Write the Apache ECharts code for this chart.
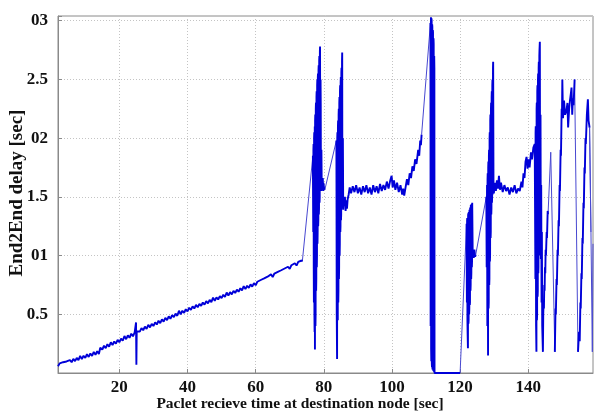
<!DOCTYPE html>
<html><head><meta charset="utf-8">
<script src="https://cdn.jsdelivr.net/npm/echarts@6/dist/echarts.min.js"></script>
<style>html,body{margin:0;padding:0;background:#fff}#c{width:595px;height:412px}</style>
</head><body><div id="c"></div>
<script>
// [receive time (s), end-to-end delay (s)], one array per dense burst/band;
// consecutive pieces are joined by thin connecting lines
const rampSeg = [
[2.0,0.058],[2.5,0.082],[3.0,0.066],[3.5,0.092],[4.0,0.075],[4.5,0.098],[5.0,0.084],[5.5,0.110],[6.0,0.092],[6.5,0.120],
[7.0,0.101],[7.5,0.128],[8.0,0.110],[8.5,0.145],[9.0,0.118],[9.5,0.147],[10.0,0.128],[10.5,0.160],[11.0,0.137],[11.5,0.166],
[12.0,0.146],[12.5,0.180],[13.0,0.155],[13.5,0.186],[14.0,0.162],[14.3,0.148],[14.4,0.215],[15.0,0.200],[15.5,0.232],[16.0,0.212],
[16.5,0.245],[17.0,0.224],[17.5,0.262],[18.0,0.238],[18.5,0.268],[19.0,0.250],[19.5,0.282],[20.0,0.262],[20.5,0.293],[21.0,0.275],
[21.5,0.315],[22.0,0.288],[22.5,0.320],[23.0,0.300],[23.5,0.335],[24.0,0.312],[24.5,0.345],[24.8,0.330],[24.9,0.430],[25.0,0.070],
[25.1,0.355],[25.5,0.372],[26.0,0.352],[26.5,0.382],[27.0,0.364],[27.5,0.395],[28.0,0.376],[28.5,0.410],[29.0,0.388],[29.5,0.418],
[30.0,0.400],[30.5,0.432],[31.0,0.413],[31.5,0.445],[32.0,0.425],[32.5,0.456],[33.0,0.437],[33.5,0.470],[34.0,0.450],[34.5,0.482],
[35.0,0.462],[35.5,0.493],[36.0,0.475],[36.5,0.506],[37.0,0.487],[37.5,0.530],[38.0,0.500],[38.5,0.530],[39.0,0.512],[39.5,0.543],
[40.0,0.524],[40.5,0.556],[41.0,0.537],[41.5,0.568],[42.0,0.549],[42.5,0.580],[43.0,0.560],[43.5,0.589],[44.0,0.571],[44.5,0.600],
[45.0,0.582],[45.5,0.612],[46.0,0.593],[46.5,0.622],[47.0,0.604],[47.5,0.642],[48.0,0.615],[48.5,0.644],[49.0,0.626],[49.5,0.655],
[50.0,0.637],[50.5,0.666],[51.0,0.648],[51.5,0.685],[52.0,0.659],[52.5,0.688],[53.0,0.670],[53.5,0.700],[54.0,0.681],[54.5,0.710],
[55.0,0.692],[55.5,0.722],[56.0,0.703],[56.5,0.740],[57.0,0.714],[57.5,0.743],[58.0,0.725],[58.5,0.754],[59.0,0.736],[59.5,0.765],
[60.0,0.747],[60.5,0.777],[61.0,0.761],[61.5,0.792],[62.0,0.775],[62.5,0.805],[63.0,0.789],[63.5,0.820],[64.0,0.803],[64.5,0.840],
[65.0,0.817],[65.5,0.847],[66.0,0.831],[66.5,0.861],[67.0,0.845],[67.5,0.875],[68.0,0.859],[68.5,0.890],[69.0,0.873],[69.5,0.905],
[70.0,0.887],[70.5,0.918],[71.0,0.901],[71.5,0.935],[72.0,0.915],[72.5,0.946],[73.0,0.930],[73.5,0.958],[73.7,0.950]
];
const burst1 = [
[76.8,1.85],[76.85,1.50],[76.9,1.20],[76.95,1.90],[77.0,1.95],[77.05,0.90],[77.1,0.60],[77.15,2.00],[77.2,2.05],[77.25,0.50],[77.3,0.35],[77.35,2.10],[77.4,0.20],[77.45,2.15],[77.5,2.20],[77.55,0.40],[77.6,0.50],
[77.65,2.25],[77.7,2.30],[77.75,0.70],[77.8,0.80],[77.85,2.35],[77.9,2.40],[77.95,0.90],[78.0,1.00],[78.05,2.45],[78.1,2.50],[78.15,1.10],[78.2,1.20],[78.25,2.52],[78.3,2.55],[78.35,1.25],[78.4,1.30],[78.45,2.58],[78.5,2.62],[78.55,1.35],[78.6,1.40],
[78.65,2.66],[78.7,2.70],[78.75,1.45],[78.8,1.50],[78.85,2.74],[78.9,2.78],[78.95,1.70],[79.0,1.80],[79.05,2.50],[79.1,2.30],[79.15,1.60],[79.2,1.55],[79.3,1.90],[79.4,1.56],[79.5,1.60],[79.7,1.66],
[79.8,1.55],[79.9,1.62],[80.1,1.57],[80.3,1.56]
];
const burst2 = [
[83.7,1.98],[83.8,0.50],[83.9,0.12],[83.95,2.00],[84.0,2.05],[84.05,0.50],[84.1,0.45],[84.15,2.10],[84.2,2.15],[84.25,0.60],[84.3,0.70],[84.35,2.20],[84.4,2.25],[84.45,0.80],[84.5,0.90],[84.55,2.30],[84.6,2.35],
[84.65,1.00],[84.7,1.10],[84.75,2.40],[84.8,2.45],[84.85,1.20],[84.9,1.25],[84.95,2.48],[85.0,2.52],[85.05,1.30],[85.1,1.35],[85.15,2.56],[85.2,2.60],[85.25,1.40],[85.3,1.45],[85.35,2.66],[85.4,2.73],[85.45,1.45],[85.5,1.50],[85.6,2.00],
[85.7,1.39],[85.8,1.50],[86.0,1.42],[86.2,1.50],[86.4,1.38],[86.6,1.47],[86.8,1.40],[87.0,1.48],[87.3,1.52],[87.6,1.58],
[88.0,1.53],[88.5,1.59],[89.0,1.54],[89.5,1.60],[90.0,1.53],[90.5,1.58],[91.0,1.52],[91.5,1.59],[92.0,1.54],[92.5,1.60],
[93.0,1.53],[93.5,1.58],[94.0,1.52],[94.5,1.60],[95.0,1.54],[95.5,1.59],[96.0,1.53],[96.5,1.61],[97.0,1.55],[97.5,1.60],
[98.0,1.56],[98.5,1.63],[99.0,1.57],[99.5,1.64],[99.9,1.68],[100.2,1.58],[100.6,1.64],[101.0,1.56],[101.5,1.62],[102.0,1.54],
[102.5,1.60],[103.0,1.52],[103.3,1.57],[103.6,1.51],[104.0,1.58],[104.4,1.65],[104.8,1.60],[105.2,1.70],[105.6,1.66],[106.0,1.76],
[106.4,1.72],[106.8,1.82],[107.2,1.78],[107.7,1.90],[108.0,1.85],[108.3,1.98],[108.5,1.94],[108.7,2.03]
];
const burst3 = [
[111.3,2.98],[111.35,0.40],[111.4,2.90],[111.45,3.03],[111.5,0.20],[111.55,0.10],[111.6,3.02],[111.65,3.00],[111.7,0.08],[111.75,0.05],[111.8,2.97],[111.85,2.95],[111.9,0.03],[111.95,0.02],[112.0,2.92],[112.05,2.90],[112.1,0.02],[112.15,0.02],
[112.2,2.85],[112.25,2.80],[112.3,0.01],[112.35,0.00],[112.4,2.70],[112.45,2.60],[112.5,0.00],[112.55,0.00],[113.1,0.00],[120.0,0.00]
];
const burst4 = [
[121.9,1.27],[122.0,0.60],[122.05,1.30],[122.1,1.32],[122.15,0.45],[122.2,0.35],[122.3,0.21],[122.35,1.34],[122.4,1.36],[122.45,0.42],[122.5,0.45],[122.55,1.37],[122.6,1.38],[122.65,0.50],[122.7,0.55],[122.75,1.39],[122.8,1.40],
[122.85,0.58],[122.9,0.60],[122.95,1.41],[123.0,1.42],[123.05,0.70],[123.1,0.75],[123.15,1.43],[123.2,1.43],[123.25,0.80],[123.3,0.85],[123.35,1.44],[123.4,1.45],[123.45,0.90],[123.5,0.95],[123.55,1.45],[123.6,1.46],[123.7,1.00],[123.8,1.02],
[124.0,0.98],[124.2,1.05],[124.4,0.99],[124.6,1.01]
];
const burst5 = [
[127.7,1.50],[127.8,0.90],[127.9,1.60],[128.0,0.40],[128.05,1.65],[128.1,1.70],[128.2,0.15],[128.25,1.75],[128.3,1.80],[128.35,0.55],[128.4,0.60],[128.45,1.85],[128.5,1.90],[128.55,0.75],[128.6,0.80],
[128.65,2.00],[128.7,2.05],[128.75,0.95],[128.8,1.00],[128.85,2.15],[128.9,2.20],[128.95,1.15],[129.0,1.20],[129.05,2.25],[129.1,2.30],[129.15,1.35],[129.2,1.40],[129.25,2.35],[129.3,2.40],[129.35,1.45],[129.4,1.50],[129.45,2.45],[129.5,2.50],[129.55,1.52],[129.6,1.55],
[129.65,2.60],[129.7,2.65],[129.8,1.60],[129.9,1.53],
[130.2,1.62],[130.5,1.55],[130.8,1.64],[131.1,1.57],[131.4,1.68],[131.7,1.56],[132.0,1.62],[132.5,1.54],[133.0,1.60],[133.5,1.55],
[134.0,1.58],[134.5,1.52],[135.0,1.58],[135.5,1.54],[136.0,1.60],[136.5,1.53],[137.0,1.57],[137.5,1.55],[138.0,1.63],[138.3,1.58],
[138.6,1.70],[138.9,1.66],[139.2,1.80],[139.5,1.84],[139.8,1.74],[140.1,1.82],[140.4,1.75],[140.8,1.88],[141.1,1.82],[141.5,1.92],
[141.9,1.95],
[142.0,1.95],[142.1,0.80],[142.15,2.05],[142.2,2.10],[142.3,0.40],[142.4,0.18],[142.45,2.25],[142.5,2.30],[142.55,0.45],[142.6,0.50],[142.65,2.40],[142.7,2.45],[142.75,0.65],[142.8,0.70],[142.85,2.50],[142.9,2.55],
[142.95,0.85],[143.0,0.90],[143.05,2.60],[143.1,2.65],[143.15,1.05],[143.2,1.10],[143.25,2.70],[143.3,2.75],[143.4,2.82],[143.5,1.00],[143.6,2.20],[143.7,0.97],[143.8,1.60],[143.9,0.60],
[144.0,1.20],[144.1,0.40],[144.3,0.18],[144.4,0.50],[144.5,0.60],[144.6,0.55],[144.7,0.75],[144.8,0.70],[144.9,0.90],[145.0,0.85],
[145.1,1.05],[145.2,1.00],[145.4,1.20],[145.5,1.15],[145.7,1.38],[145.8,1.35]
];
const burst6 = [
[147.8,0.18],[148.0,0.55],[148.1,0.50],
[148.3,0.80],[148.4,0.75],[148.6,1.05],[148.7,1.00],[148.9,1.30],[149.0,1.25],[149.2,1.60],[149.3,1.55],[149.5,1.90],[149.6,1.85],
[149.8,2.25],[149.9,2.20],[150.0,2.50],[150.2,2.17],[150.5,2.32],[150.8,2.20],[151.2,2.23],[151.5,2.30],[151.7,2.09],[152.0,2.25],
[152.2,2.31],[152.5,2.38],[152.7,2.43],[152.9,2.20],[153.1,2.34],[153.3,2.28],[153.6,2.50]
];
const burst7 = [
[154.6,0.18],[154.9,0.35],[155.1,0.27],
[155.3,0.60],[155.4,0.55],[155.6,0.85],[155.7,0.80],[155.9,1.15],[156.0,1.10],[156.2,1.45],[156.3,1.40],[156.5,1.75],[156.6,1.70],
[156.8,2.00],[156.9,1.95],[157.2,2.20],[157.5,2.33],[157.7,2.15],[158.0,2.09]
];
const thinSteps = [[146.6,1.88],[158.4,1.20],[158.8,0.18],[159.0,1.10]];
const xTickValues = [20, 40, 60, 80, 100, 120, 140];
const yTickValues = [0.5, 1, 1.5, 2, 2.5, 3];
const yTickLabels = ['0.5', '01', '1.5', '02', '2.5', '03'];
const xTitle = 'Paclet recieve time at destination node [sec]';
const yTitle = 'End2End delay [sec]';

// thin connectors: end of one dense piece to start of the next
const pieces = [rampSeg, burst1, burst2, burst3, burst4, burst5, [thinSteps[0]], burst6, burst7, thinSteps.slice(1)];
const thinData = [];
for (let i = 0; i < pieces.length - 1; i++) {
  thinData.push(pieces[i][pieces[i].length - 1], pieces[i + 1][0], null);
}
thinData.push(burst7[burst7.length - 1], thinSteps[1], thinSteps[2], thinSteps[3]);
const denseList = [rampSeg, burst1, burst2, burst3, burst4, burst5, burst6, burst7];

const chart = echarts.init(document.getElementById('c'), null, {renderer: 'canvas'});
const serif = "'Liberation Serif','DejaVu Serif',serif";
const series = [{
  type: 'line', data: thinData, showSymbol: false, symbol: 'none', connectNulls: false,
  lineStyle: {color: '#4848d0', width: 1}, z: 2
}];
denseList.forEach(function (d) {
  series.push({type: 'line', data: d, showSymbol: false, symbol: 'none', sampling: null,
    lineStyle: {color: '#0000d8', width: 1.9, join: 'bevel'}, z: 3});
});
chart.setOption({
  animation: false,
  backgroundColor: '#fff',
  grid: {left: 58, right: 2, top: 16, bottom: 39, show: true, borderColor: '#8a8a8a', borderWidth: 1},
  xAxis: {
    type: 'value', min: 2, max: 159,
    axisLine: {show: true, lineStyle: {color: '#8a8a8a', width: 1}},
    axisTick: {show: true, inside: true, length: 4, customValues: xTickValues, lineStyle: {color: '#8a8a8a'}},
    axisLabel: {customValues: xTickValues, color: '#111', fontFamily: serif, fontWeight: 'bold', fontSize: 17, margin: 6},
    splitLine: {show: true, lineStyle: {color: '#c4c4c4', type: [1, 2], width: 1}}
  },
  yAxis: {
    type: 'value', min: 0, max: 3.04, interval: 0.5,
    axisLine: {show: true, lineStyle: {color: '#8a8a8a', width: 1}},
    axisTick: {show: true, inside: true, length: 4, lineStyle: {color: '#8a8a8a'}},
    axisLabel: {color: '#111', fontFamily: serif, fontWeight: 'bold', fontSize: 17, margin: 10,
      formatter: function (v) {
        for (let i = 0; i < yTickValues.length; i++) { if (Math.abs(v - yTickValues[i]) < 1e-6) return yTickLabels[i]; }
        return '';
      }},
    splitLine: {show: true, lineStyle: {color: '#c4c4c4', type: [1, 2], width: 1}}
  },
  graphic: [
    {type: 'text', x: 300, y: 404, style: {text: xTitle, fill: '#111', font: 'bold 15.5px ' + serif, align: 'center', verticalAlign: 'middle'}},
    {type: 'text', x: 17, y: 193, rotation: Math.PI / 2, style: {text: yTitle, fill: '#111', font: 'bold 19px ' + serif, align: 'center', verticalAlign: 'middle'}}
  ],
  series: series
});
</script></body></html>
